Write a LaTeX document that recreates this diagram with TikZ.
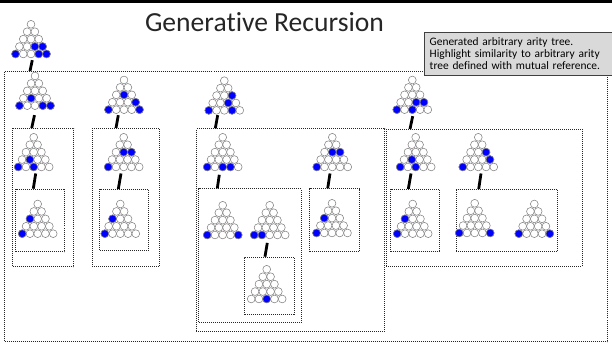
\documentclass[tikz,border=0pt]{standalone}
\usepackage{fontspec}
\setmainfont[Ligatures=NoCommon]{Carlito}
\definecolor{cgray}{RGB}{130,130,130}
\definecolor{cblue}{RGB}{0,0,255}
\definecolor{notefill}{RGB}{217,217,217}
\definecolor{noteline}{RGB}{64,64,64}
\tikzset{
  wc/.style={draw=cgray, fill=white, line width=0.55pt},
  bc/.style={draw=cgray, fill=cblue, line width=0.55pt},
  tribox/.style={inner sep=0pt, minimum width=38.8pt, minimum height=37.5pt},
  dbox/.style={draw=black!85, line width=1pt, dash pattern=on 1pt off 1pt, inner sep=0pt, anchor=north west},
  conn/.style={draw=black, line width=2.8pt},
  notebox/.style={draw=noteline, fill=notefill, line width=0.8pt, anchor=north west, inner xsep=5.3pt, inner ysep=0pt, align=left, font=\fontsize{11.4}{12.2}\selectfont}
}
\newcommand\mytri[4]{%
  \node[tribox] (#1) at ({#2},{#3+14.84}) {};
  \foreach \r in {1,...,5}{\foreach \j in {1,...,\r}{%
    \path[wc] ({#2+(\j-(\r+1)/2)*7.75},{#3+(\r-1)*7.42}) circle[radius=3.9pt];}}
  \foreach \r/\j in {#4}{%
    \path[bc] ({#2+(\j-(\r+1)/2)*7.75},{#3+(\r-1)*7.42}) circle[radius=3.9pt];}
}
\newcommand\myconn[5]{%
  \draw[conn] ([shift={(#2,#3)}]#1.south) -- ([shift={(#4,0)}]#1.south |- #5.north);
}
\begin{document}
\begin{tikzpicture}[x=1pt,y=-1pt]
\useasboundingbox (0,0) rectangle (612,347);
\fill[black] (0,0) rectangle (612,2.7);
\node[font=\fontsize{27.6}{30}\selectfont, text=black!85, anchor=base, inner sep=0pt] (title) at (264.5,31.7) {Generative Recursion};

% boxes
\node[dbox, minimum width=603pt, minimum height=270pt] (outer) at (4,71) {};
\node[dbox, minimum width=61pt, minimum height=138pt] (bA2) at (12,128) {};
\node[dbox, minimum width=49pt, minimum height=62.3pt] (bA3) at (15.3,188.7) {};
\node[dbox, minimum width=67.3pt, minimum height=138pt] (bB2) at (91.7,128) {};
\node[dbox, minimum width=49pt, minimum height=60.5pt] (bB3) at (99.3,189) {};
\node[dbox, minimum width=188.3pt, minimum height=202.7pt] (bC2) at (195.7,128.3) {};
\node[dbox, minimum width=102.4pt, minimum height=133.4pt] (bC2a) at (198.3,188.3) {};
\node[dbox, minimum width=49.7pt, minimum height=57.6pt] (bC2bs) at (244.3,256.7) {};
\node[dbox, minimum width=49.7pt, minimum height=62.7pt] (bC3s) at (309.3,188.3) {};
\node[dbox, minimum width=195.8pt, minimum height=137pt] (bD2) at (385.7,129) {};
\node[dbox, minimum width=49.3pt, minimum height=62pt] (bD2s) at (390,189) {};
\node[dbox, minimum width=101.6pt, minimum height=62pt] (bD3s) at (455.7,189) {};

% triangles
\mytri{t0}{31}{24.3}{4/3,4/4,5/1,5/4,5/5}
\mytri{tA1}{35}{76}{4/2,5/1,5/4,5/5}
\mytri{tB1}{124}{80}{3/2,4/4,5/1,5/5}
\mytri{tA2}{33.7}{137.3}{4/2,5/1,5/3}
\mytri{tA3}{37.7}{204}{3/1,5/1}
\mytri{tB2}{123.7}{137.3}{3/2,3/3,5/1}
\mytri{tB3}{120.3}{204}{3/1,5/1}
\mytri{tC1}{224.3}{80.7}{3/3,4/3,5/1,5/4}
\mytri{tC2}{222.7}{137.3}{5/1,5/3,5/4}
\mytri{tC3}{332.3}{137.3}{3/2,3/3,5/1}
\mytri{tC2a}{222.7}{205.3}{5/1,5/5}
\mytri{tC2b}{269.7}{205.3}{5/1,5/2}
\mytri{tC2bc}{266.7}{269.3}{5/3}
\mytri{tC3c}{332}{203.3}{3/1,5/1}
\mytri{tD1}{412.3}{80}{4/3,4/4,5/1,5/3}
\mytri{tD2}{415.7}{137.3}{4/2,5/1,5/3}
\mytri{tD3}{478.3}{137.3}{3/3,4/4,5/1}
\mytri{tD2c}{412.7}{204}{3/1,5/1}
\mytri{tD3a}{474.7}{203.3}{5/1,5/5}
\mytri{tD3b}{534.3}{204}{5/1,5/5}

% connectors
\myconn{t0}{1.3}{2.1}{-1}{outer}
\myconn{tA1}{-0.5}{5.4}{-3.3}{bA2}
\myconn{tB1}{-5.7}{1.4}{-8}{bB2}
\myconn{tA2}{2}{2.4}{-0.4}{bA3}
\myconn{tB2}{-2.7}{2.4}{-5.4}{bB3}
\myconn{tC1}{-6.6}{0.7}{-9}{bC2}
\myconn{tC2}{-3.4}{3.7}{-5.4}{bC2a}
\myconn{tC3}{-2.3}{2.4}{-4.6}{bC3s}
\myconn{tC2b}{-2.4}{3.8}{-4.7}{bC2bs}
\myconn{tD1}{0.4}{2.4}{-2.3}{bD2}
\myconn{tD2}{-4.7}{2.4}{-7.4}{bD2s}
\myconn{tD3}{2.7}{2.4}{0.4}{bD3s}

% note
\node[notebox, minimum width=187.5pt, minimum height=42.7pt, text width=176.9pt] (note) at (424,32)
  {Generated arbitrary arity tree.\\Highlight similarity to arbitrary arity\\tree defined with mutual reference.};
\end{tikzpicture}
\end{document}
